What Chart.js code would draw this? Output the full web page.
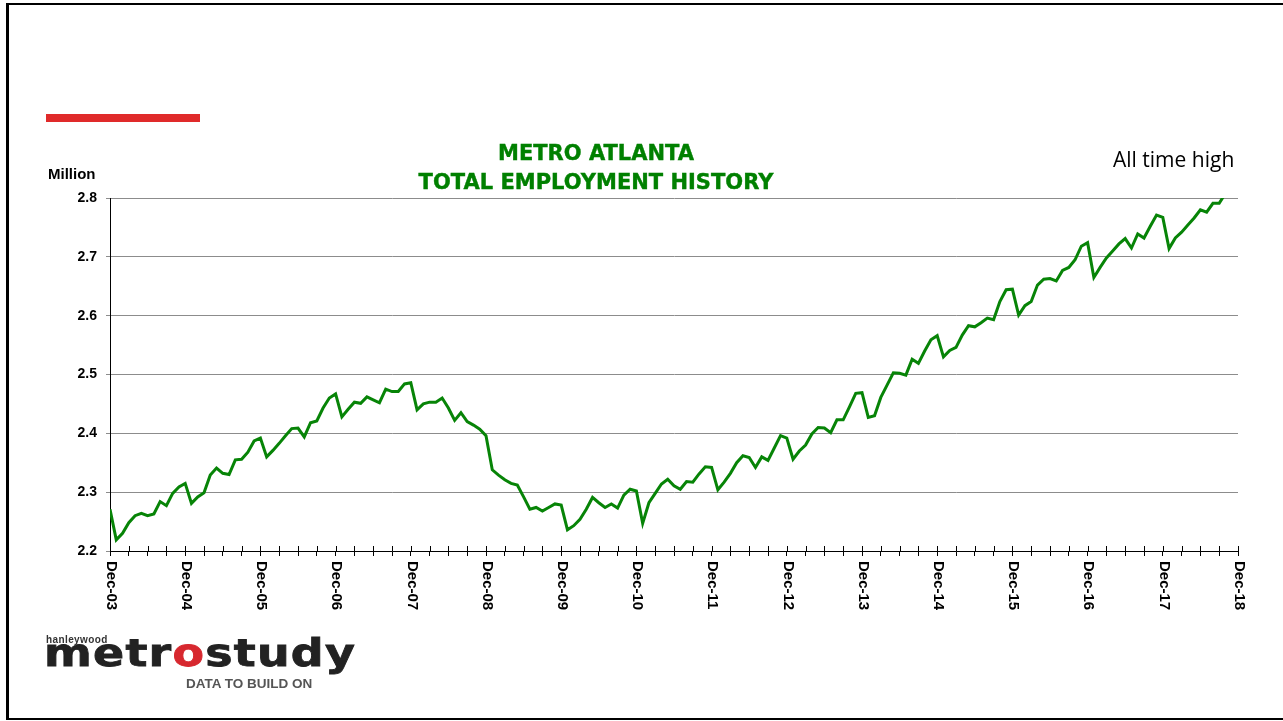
<!DOCTYPE html>
<html>
<head>
<meta charset="utf-8">
<script src="https://cdn.jsdelivr.net/npm/chart.js@4.4.1/dist/chart.umd.min.js"></script>
<style>
  html, body { margin: 0; padding: 0; background: #fff; }
  body { width: 1283px; height: 721px; position: relative; overflow: hidden; }
  #frame { position: absolute; left: 6px; top: 3px; width: 1300px; height: 713px;
           border-left: 3px solid #000; border-top: 2px solid #000; border-bottom: 2px solid #000; }
  #chart { position: absolute; left: 0; top: 0; }
  #redbar { position: absolute; left: 46px; top: 114px; width: 154px; height: 8px; background: #e02a2a; }
  #title { position: absolute; left: 396px; width: 400px; top: 139px; text-align: center;
           font: bold 21px/29px "DejaVu Sans", Verdana, sans-serif; color: #008000; white-space: nowrap;
           -webkit-text-stroke: 0.4px #008000; }
  #unit { position: absolute; left: 48px; top: 166px; font: bold 15px/15px "Liberation Sans", Arial, sans-serif; color: #000; }
  #note { position: absolute; left: 1113px; top: 147px; font: 21px/24px "Open Sans", sans-serif; color: #000; white-space: nowrap; }
  #logo-hw { position: absolute; left: 46px; top: 635px; font: bold 10px/10px "Liberation Sans", Arial, sans-serif; color: #333; letter-spacing: 0.4px; }
  #logo-main { position: absolute; left: 44px; top: 634px; font: bold 37px/40px "DejaVu Sans", sans-serif; color: #222;
               letter-spacing: 1px; transform: scaleX(1.24); transform-origin: 0 0; white-space: nowrap;
               -webkit-text-stroke: 0.8px #222; }
  #logo-main .o { color: #d7282f; -webkit-text-stroke: 0.8px #d7282f; }
  #logo-tag { position: absolute; left: 186px; top: 677px; font: bold 13.5px/14px "Liberation Sans", Arial, sans-serif; color: #555; white-space: nowrap; }
</style>
</head>
<body>
<div id="frame"></div>
<canvas id="chart" width="1283" height="721"></canvas>
<div id="redbar"></div>
<div id="title">METRO ATLANTA<br>TOTAL EMPLOYMENT HISTORY</div>
<div id="unit">Million</div>
<div id="note">All time high</div>
<div id="logo-hw">hanleywood</div>
<div id="logo-main">metr<span class="o">o</span>study</div>
<div id="logo-tag">DATA TO BUILD ON</div>
<script>
// ---- Data (monthly, Dec-03 .. Oct-18), million jobs ----
const startYear = 2003;      // first month is December 2003
const tickLabels = ['Dec-03','Dec-04','Dec-05','Dec-06','Dec-07','Dec-08','Dec-09','Dec-10',
                    'Dec-11','Dec-12','Dec-13','Dec-14','Dec-15','Dec-16','Dec-17','Dec-18'];
const yTicks = [2.2, 2.3, 2.4, 2.5, 2.6, 2.7, 2.8];
const employment = [
  2.271,
  2.219, 2.230, 2.248, 2.260, 2.264, 2.260, 2.263, 2.284, 2.277, 2.298, 2.309, 2.315,
  2.281, 2.292, 2.299, 2.329, 2.341, 2.332, 2.330, 2.355, 2.356, 2.368, 2.387, 2.392,
  2.360, 2.371, 2.383, 2.396, 2.408, 2.409, 2.394, 2.418, 2.421, 2.443, 2.460, 2.467,
  2.428, 2.441, 2.453, 2.451, 2.462, 2.457, 2.452, 2.475, 2.471, 2.471, 2.484, 2.486,
  2.440, 2.450, 2.453, 2.453, 2.460, 2.443, 2.422, 2.435, 2.420, 2.414, 2.407, 2.396,
  2.338, 2.329, 2.321, 2.315, 2.312, 2.292, 2.271, 2.274, 2.268, 2.274, 2.280, 2.278,
  2.236, 2.243, 2.254, 2.271, 2.291, 2.282, 2.274, 2.280, 2.273, 2.295, 2.305, 2.302,
  2.247, 2.282, 2.298, 2.314, 2.322, 2.311, 2.305, 2.318, 2.317, 2.331, 2.343, 2.342,
  2.304, 2.317, 2.332, 2.350, 2.362, 2.359, 2.342, 2.360, 2.354, 2.375, 2.396, 2.392,
  2.356, 2.370, 2.380, 2.399, 2.410, 2.409, 2.401, 2.423, 2.423, 2.445, 2.468, 2.469,
  2.427, 2.430, 2.461, 2.482, 2.503, 2.502, 2.499, 2.526, 2.519, 2.540, 2.559, 2.566,
  2.530, 2.541, 2.546, 2.567, 2.583, 2.581, 2.588, 2.596, 2.593, 2.624, 2.644, 2.645,
  2.601, 2.617, 2.624, 2.652, 2.662, 2.663, 2.659, 2.677, 2.682, 2.695, 2.718, 2.724,
  2.665, 2.682, 2.698, 2.710, 2.722, 2.731, 2.715, 2.739, 2.732, 2.752, 2.771, 2.767,
  2.714, 2.732, 2.742, 2.754, 2.766, 2.780, 2.776, 2.791, 2.791, 2.808
];

// month category names (for reference / tooltips)
const monthNames = ['Jan','Feb','Mar','Apr','May','Jun','Jul','Aug','Sep','Oct','Nov','Dec'];
const months = employment.map((_, i) => {
  const m = (11 + i) % 12, y = startYear + Math.floor((11 + i) / 12);
  return monthNames[m] + '-' + String(y % 100).padStart(2, '0');
});

const axisDecor = {
  id: 'axisDecor',
  afterDraw(chart) {
    const { ctx, chartArea, scales: { x } } = chart;
    ctx.save();
    // inner half of the x tick marks (ticks cross the axis)
    ctx.strokeStyle = '#000';
    ctx.lineWidth = 1;
    x.ticks.forEach(t => {
      const px = Math.round(x.getPixelForValue(t.value)) + 0.5;
      ctx.beginPath();
      ctx.moveTo(px, chartArea.bottom - 5);
      ctx.lineTo(px, chartArea.bottom);
      ctx.stroke();
    });
    // rotated (clockwise) year labels
    ctx.font = 'bold 15px "Liberation Sans", Arial, sans-serif';
    ctx.fillStyle = '#000';
    ctx.textAlign = 'left';
    ctx.textBaseline = 'middle';
    tickLabels.forEach((lab, k) => {
      const px = x.getPixelForValue(k * 12);
      ctx.save();
      ctx.translate(px + 1, chartArea.bottom + 10);
      ctx.rotate(Math.PI / 2);
      ctx.fillText(lab, 0, 0);
      ctx.restore();
    });
    ctx.restore();
  }
};

new Chart(document.getElementById('chart'), {
  type: 'line',
  data: {
    datasets: [{
      label: 'Total employment',
      data: employment.map((v, i) => ({ x: i, y: v })),
      borderColor: '#078407',
      borderWidth: 3,
      pointRadius: 0,
      tension: 0,
      fill: false
    }]
  },
  options: {
    responsive: false,
    animation: false,
    events: [],
    layout: { padding: { left: 40, right: 45, top: 198, bottom: 100 } },
    plugins: { legend: { display: false }, title: { display: false }, tooltip: { enabled: false } },
    scales: {
      x: {
        type: 'linear',
        min: 0,
        max: (tickLabels.length - 1) * 12,
        afterFit(s) { s.height = 70; },
        border: { display: true, color: '#000', width: 1 },
        grid: { display: true, drawOnChartArea: false, drawTicks: true, tickLength: 5, tickColor: '#000' },
        ticks: { stepSize: 3, autoSkip: false, minRotation: 0, maxRotation: 0, callback: () => '' }
      },
      y: {
        type: 'linear',
        min: yTicks[0],
        max: yTicks[yTicks.length - 1],
        afterFit(s) { s.width = 70; },
        afterBuildTicks(s) { s.ticks = yTicks.map(v => ({ value: v })); },
        border: { display: true, color: '#000', width: 1 },
        grid: { color: '#8c8c8c', lineWidth: 1, drawTicks: true, tickLength: 4, tickColor: '#8c8c8c' },
        ticks: {
          padding: 9,
          color: '#000',
          font: { family: '"Liberation Sans", Arial, sans-serif', size: 14, weight: 'bold' },
          callback: v => Number(v).toFixed(1)
        }
      }
    }
  },
  plugins: [axisDecor]
});
</script>
</body>
</html>
